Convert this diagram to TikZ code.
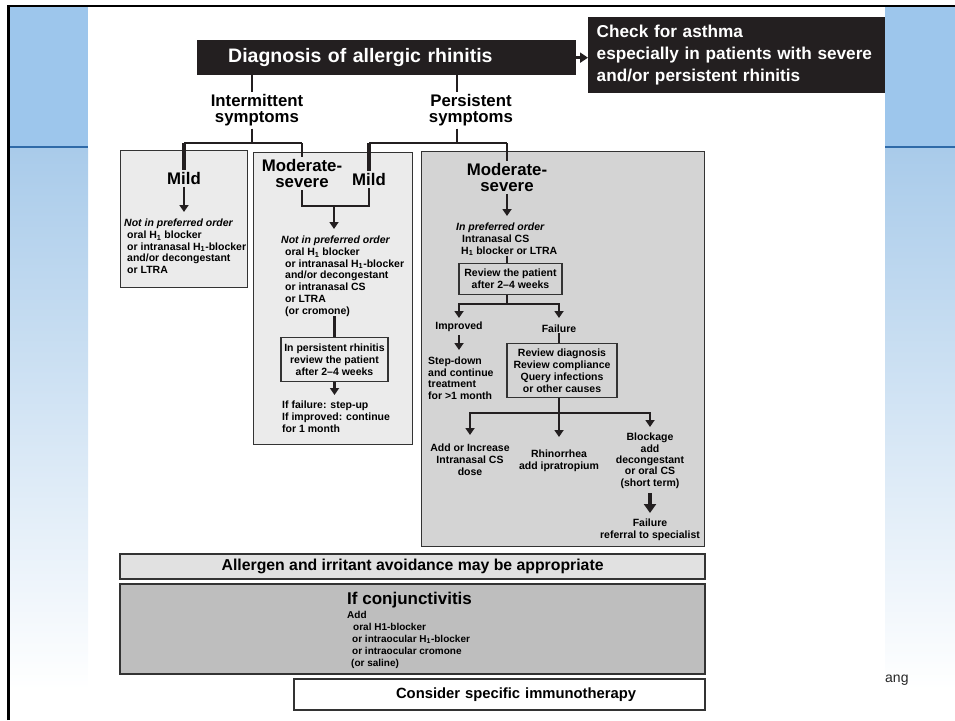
\documentclass[tikz,border=0pt]{standalone}
\usepackage{fontspec}
\setmainfont{Liberation Sans}
\usetikzlibrary{arrows.meta}
\definecolor{boxblack}{HTML}{231F20}
\definecolor{inkgrey}{HTML}{333333}
\definecolor{slideblue}{HTML}{9DC6EC}
\definecolor{slidelow}{HTML}{A9CBEA}
\definecolor{slideline}{HTML}{2F6AA8}
\definecolor{greyA}{HTML}{EBEBEB}
\definecolor{greyB}{HTML}{D4D4D4}
\definecolor{greyC}{HTML}{E1E1E1}
\definecolor{greyD}{HTML}{BEBEBE}

\begin{document}
\begin{tikzpicture}[x=1pt, y=-1pt,
  hd/.style={font=\fontsize{16.8}{16.5}\selectfont\bfseries, align=center, inner sep=2pt},
  sm/.style={font=\fontsize{10.5}{11.7}\selectfont\bfseries, align=left, inner sep=0pt},
  smc/.style={sm, align=center},
  blackbox/.style={fill=boxblack, text=white, inner ysep=0pt},
  panel/.style={draw=inkgrey, line width=1.3pt, inner sep=0pt},
  revbox/.style={draw=inkgrey, line width=1.1pt, inner sep=0pt, align=center,
    font=\fontsize{10.5}{11.8}\selectfont\bfseries},
  bandbox/.style={draw=inkgrey, line width=2.2pt, inner sep=0pt},
  conn/.style={line width=2.2pt, draw=boxblack},
  arr/.style={conn, -{Triangle[length=7pt, width=9pt]}},
  bigarr/.style={line width=4pt, draw=boxblack, -{Triangle[length=9pt, width=12pt]}}]
  \useasboundingbox (0, 0) rectangle (955, 720);
  \fill[slideblue] (9, 7) rectangle (88, 146);
  \fill[slideblue] (885, 7) rectangle (955, 146);
  \shade[top color=slidelow, bottom color=white] (9, 148) rectangle (88, 690);
  \shade[top color=slidelow, bottom color=white] (885, 148) rectangle (955, 690);
  \draw[slideline, line width=2pt] (9, 147) -- (88, 147);
  \draw[slideline, line width=2pt] (885, 147) -- (955, 147);
  \draw[line width=2.4pt] (8.5, 720) -- (8.5, 6.2) -- (955, 6.2);
  \node (foot) [anchor=base west, inner sep=0pt, font=\fontsize{14}{14}\selectfont, text=black!85] at (885, 682) {ang};

  \node (diag) [blackbox, anchor=north west, minimum height=35pt, text width=379pt, inner xsep=0pt, align=left,
    font=\fontsize{19.5}{20}\selectfont\bfseries] at (197, 40) {\hspace*{31pt}Diagnosis of allergic rhinitis};
  \node (check) [blackbox, anchor=north west, minimum height=76pt, text width=280pt, inner xsep=8.5pt, align=left,
    font=\fontsize{17.2}{22}\selectfont\bfseries] at (588, 17)
    {\hyphenpenalty=10000\relax Check for asthma\\especially in patients with severe\\and/or persistent rhinitis};
  \draw[conn, line width=3pt, -{Triangle[length=8pt, width=10pt]}] (diag.east) -- (check.west |- diag.east);

  \node (ilab) [hd, anchor=north] at (257, 92) {Intermittent\\symptoms};
  \node (plab) [hd, anchor=north] at (471, 92) {Persistent\\symptoms};
  \coordinate (ijoin) at (252, 143);
  \coordinate (pjoin) at (457, 143);
  \draw[conn] (diag.south -| ijoin) -- (ilab.north -| ijoin);
  \draw[conn] (diag.south -| pjoin) -- (plab.north -| pjoin);
  \draw[conn] (ilab.south -| ijoin) -- (ijoin);
  \draw[conn] (plab.south -| pjoin) -- (pjoin);

  \node (lbox) [panel, fill=greyA, minimum width=127pt, minimum height=137pt, anchor=north west] at (120, 150) {};
  \node (mbox) [panel, fill=greyA, minimum width=159pt, minimum height=292pt, anchor=north west] at (253, 152) {};
  \node (rbox) [panel, fill=greyB, minimum width=283pt, minimum height=395pt, anchor=north west] at (421, 151) {};

  \node (lmild) [hd, anchor=north] at (184, 170) {Mild};
  \node (mmod) [hd, anchor=north] at (302, 157) {Moderate-\\severe};
  \node (mmild) [hd, anchor=north] at (369, 171) {Mild};
  \node (rmod) [hd, anchor=north] at (507, 161) {Moderate-\\severe};
  \draw[conn] (lmild.north |- ijoin) -- (mmod.north |- ijoin);
  \draw[conn] (mmild.north |- pjoin) -- (rmod.north |- pjoin);
  \draw[conn, line width=4.5pt] (lmild.north |- ijoin) -- (lmild.north);
  \draw[conn, line width=1.4pt] (mmod.north |- ijoin) -- (mmod.north);
  \draw[conn, line width=4.5pt] (mmild.north |- pjoin) -- (mmild.north);
  \draw[conn, line width=1.4pt] (rmod.north |- pjoin) -- (rmod.north);

  \node (ltxt) [sm, anchor=north west] at (124, 219)
    {\textit{Not in preferred order}\\\hspace*{3pt}oral H\textsubscript{1} blocker\\\hspace*{3pt}or intranasal H\textsubscript{1}-blocker\\\hspace*{3pt}and/or decongestant\\\hspace*{3pt}or LTRA};
  \draw[arr, line width=2.6pt, shorten >=7pt] (lmild.south) -- (ltxt.north -| lmild);

  \coordinate (mjoin) at (334, 206);
  \draw[conn] (mmod.south) |- (mjoin) -| (mmild.south);
  \node (mtxt) [sm, anchor=north west] at (281, 236)
    {\textit{Not in preferred order}\\\hspace*{4pt}oral H\textsubscript{1} blocker\\\hspace*{4pt}or intranasal H\textsubscript{1}-blocker\\\hspace*{4pt}and/or decongestant\\\hspace*{4pt}or intranasal CS\\\hspace*{4pt}or LTRA\\\hspace*{4pt}(or cromone)};
  \draw[arr, shorten >=7pt] (mjoin) -- (mtxt.north -| mjoin);
  \node (mrev) [revbox, minimum width=107pt, minimum height=44pt, anchor=north] at (334.5, 337)
    {In persistent rhinitis\\review the patient\\after 2--4 weeks};
  \draw[conn] (mtxt.south -| mrev) -- (mrev.north);
  \node (mres) [sm, anchor=north west] at (282, 401) {If failure: step-up\\If improved: continue\\for 1 month};
  \draw[arr, shorten >=6pt] (mrev.south) -- (mres.north -| mrev);

  \node (rtxt) [sm, anchor=north west] at (456, 223)
    {\textit{In preferred order}\\\hspace*{6pt}Intranasal CS\\\hspace*{5pt}H\textsubscript{1} blocker or LTRA};
  \draw[arr, shorten >=7pt] (rmod.south) -- (rtxt.north -| rmod);
  \coordinate (rsplit) at (507, 304);
  \node (rrev) [revbox, minimum width=103pt, minimum height=31pt, anchor=north] at (510.5, 263)
    {Review the patient\\after 2--4 weeks};
  \draw[conn, line width=1.4pt] (rtxt.south -| rsplit) -- (rrev.north -| rsplit);
  \node (rimp) [sm, anchor=north] at (459, 322) {Improved};
  \node (rfail) [sm, anchor=north] at (559, 325) {Failure};
  \draw[conn] (rrev.south -| rsplit) -- (rsplit);
  \draw[arr, shorten >=4pt] (rsplit) -| (rimp.north);
  \draw[arr, shorten >=7pt] (rsplit) -| (rfail.north);
  \node (rstep) [sm, font=\fontsize{10.5}{11.4}\selectfont\bfseries, anchor=north west] at (428, 357)
    {Step-down\\and continue\\treatment\\for >1 month};
  \draw[arr, shorten <=3pt, shorten >=7pt] (rimp.south) -- (rstep.north -| rimp);
  \node (rdiag) [revbox, minimum width=110pt, minimum height=54pt, anchor=north] at (562, 343)
    {Review diagnosis\\Review compliance\\Query infections\\or other causes};
  \draw[conn, line width=1.4pt] (rfail.south) -- (rdiag.north -| rfail);

  \coordinate (rsplit2) at (559, 413);
  \node (radd) [smc, anchor=north] at (470, 444) {Add or Increase\\Intranasal CS\\dose};
  \node (rrhin) [smc, anchor=north] at (559, 450) {Rhinorrhea\\add ipratropium};
  \node (rblock) [smc, font=\fontsize{10.5}{11.3}\selectfont\bfseries, anchor=north] at (650, 433)
    {Blockage\\add\\decongestant\\or oral CS\\(short term)};
  \node (rrefer) [smc, anchor=north] at (650, 519) {Failure\\referral to specialist};
  \draw[conn] (rdiag.south -| rsplit2) -- (rsplit2);
  \draw[arr, shorten >=9pt] (rsplit2) -| (radd.north);
  \draw[arr, shorten >=13pt] (rsplit2) -- (rrhin.north);
  \draw[arr, shorten >=6pt] (rsplit2) -| (rblock.north);
  \draw[bigarr, shorten <=5pt, shorten >=6pt] (rblock.south) -- (rrefer.north);

  \node (avoid) [bandbox, fill=greyC, minimum width=585pt, minimum height=25pt, anchor=north west,
    font=\fontsize{15.8}{16}\selectfont\bfseries] at (119, 553) {Allergen and irritant avoidance may be appropriate};
  \node (conj) [bandbox, fill=greyD, minimum width=585pt, minimum height=90pt, anchor=north west] at (119, 583) {};
  \node (conjhd) [anchor=north west, inner sep=0pt, font=\fontsize{17}{17}\selectfont\bfseries] at (347, 592) {If conjunctivitis};
  \node (conjtxt) [sm, font=\fontsize{10}{12}\selectfont\bfseries, anchor=north west] at (347, 611)
    {Add\\\hspace*{6pt}oral H1-blocker\\\hspace*{5pt}or intraocular H\textsubscript{1}-blocker\\\hspace*{5pt}or intraocular cromone\\\hspace*{4pt}(or saline)};
  \node (immuno) [bandbox, fill=white, minimum height=31pt, text width=411pt, inner xsep=0pt, align=center, anchor=north west,
    font=\fontsize{14.8}{15}\selectfont\bfseries] at (293, 678) {\hspace*{33pt}Consider specific immunotherapy};
\end{tikzpicture}
\end{document}
